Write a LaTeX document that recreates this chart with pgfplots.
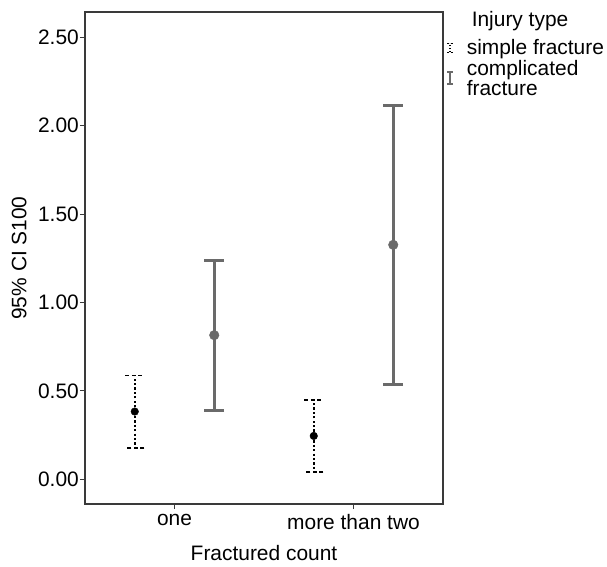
\documentclass[border=0pt]{standalone}
\usepackage{pgfplots}
\pgfplotsset{compat=1.18}
\usepackage{pgfplotstable}
\usepackage{fontspec}
\setmainfont{Liberation Sans}

\definecolor{cgray}{HTML}{6A6A6A}
\definecolor{frame}{HTML}{3A3A3A}

% x: 0 = one, 1 = more than two; groups offset by +-0.222
\pgfplotstableread{
x       y      ep     em
-0.222  0.383  0.205  0.206
0.778   0.245  0.204  0.205
}\simple
\pgfplotstableread{
x       y      ep     em
0.222   0.815  0.425  0.425
1.222   1.326  0.789  0.789
}\complicated

\begin{document}
\begin{tikzpicture}[font=\fontsize{21}{20}\selectfont]
\begin{axis}[
    scale only axis,
    width=358bp, height=492bp,
    xmin=-0.5, xmax=1.5,
    ymin=-0.14, ymax=2.643,
    xtick={0,1}, xticklabels={one,more than two},
    ytick={0,0.5,1,1.5,2,2.5},
    yticklabels={0.00,0.50,1.00,1.50,2.00,2.50},
    xtick pos=bottom, ytick pos=left,
    tick align=outside,
    major tick length=5bp,
    tick style={frame, line width=1bp},
    axis line style={frame, line width=1.6bp},
    yticklabel style={inner sep=1bp},
    xticklabel style={inner sep=2bp, yshift=-3bp},
    xlabel={Fractured count},
    ylabel={95\% CI S100},
    xlabel style={yshift=-10bp},
    ylabel style={yshift=7bp},
    legend style={at={(axis description cs:1,1)}, anchor=north west,
        xshift=3bp, yshift=3bp, draw=none, fill=none,
        row sep=0bp, column sep=11bp, inner sep=0pt,
        cells={align=left, inner sep=0pt}},
    legend cell align=left,
]
\addlegendimage{empty legend}
\addlegendentry[text depth=9bp]{\hspace{5bp}Injury type}

\addplot+[only marks, mark=*, mark size=3.8bp, black,
    mark options={solid, fill=black, draw=black},
    legend image code/.code={
        \draw[black, line width=1.2bp, dash pattern=on 1.5bp off 1.5bp] (0bp,-4.5bp) -- (0bp,4.5bp);
        \draw[black, line width=1bp, dash pattern=on 2bp off 1.5bp] (-3bp,4.5bp) -- (3bp,4.5bp) (-3bp,-4.5bp) -- (3bp,-4.5bp);
    },
    error bars/.cd, y dir=both, y explicit,
    error bar style={black, line width=2bp, dash pattern=on 2.2bp off 2.2bp},
    error mark options={rotate=90, black, line width=1.4bp, mark size=9.5bp, dash pattern=on 4bp off 2.5bp}]
    table[x=x, y=y, y error plus=ep, y error minus=em] {\simple};
\addlegendentry{simple fracture}

\addplot+[only marks, mark=*, mark size=4.8bp, cgray,
    mark options={solid, fill=cgray, draw=cgray},
    legend image code/.code={
        \draw[cgray, line width=2.2bp] (0bp,-6bp) -- (0bp,6bp);
        \draw[cgray, line width=1.6bp] (-3bp,6bp) -- (3bp,6bp) (-3bp,-6bp) -- (3bp,-6bp);
    },
    error bars/.cd, y dir=both, y explicit,
    error bar style={cgray, line width=3bp, solid},
    error mark options={rotate=90, cgray, line width=3bp, mark size=10bp, solid}]
    table[x=x, y=y, y error plus=ep, y error minus=em] {\complicated};
\addlegendentry{complicated\\fracture}
\end{axis}
\path (current axis.south west) ++(-85bp,-63bp);
\path (current axis.north east) ++(164bp,12bp);
\end{tikzpicture}
\end{document}
